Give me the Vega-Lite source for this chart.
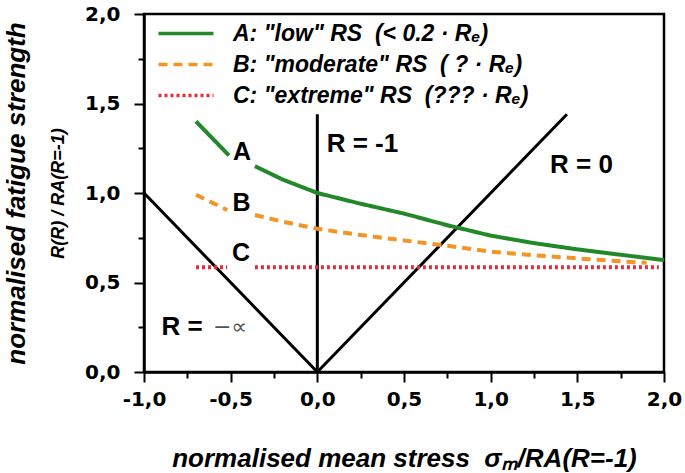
{
  "$schema": "https://vega.github.io/schema/vega-lite/v6.json",
  "width": 520,
  "height": 358,
  "autosize": {"type": "none"},
  "padding": {"left": 144, "top": 14, "right": 21, "bottom": 101},
  "background": "white",
  "config": {
    "view": {"stroke": "black", "strokeWidth": 2.5},
    "axis": {"grid": false, "domainColor": "black", "tickColor": "black", "labelColor": "black", "titleColor": "black", "labelFlush": false, "labelOverlap": false}
  },
  "resolve": {"axis": {"x": "independent", "y": "independent"}},
  "layer": [
    {
      "data": {"values": [
        {"name": "inf", "x": -1, "y": 1}, {"name": "inf", "x": 0, "y": 0},
        {"name": "m1", "x": 0, "y": 0}, {"name": "m1", "x": 0, "y": 1.44},
        {"name": "zero", "x": 0, "y": 0}, {"name": "zero", "x": 1.44, "y": 1.44}
      ]},
      "mark": {"type": "line", "color": "black", "strokeWidth": 3},
      "encoding": {
        "x": {"field": "x", "type": "quantitative",
          "scale": {"domain": [-1, 2], "nice": false, "zero": false},
          "axis": {"orient": "bottom", "values": [-1, -0.5, 0, 0.5, 1, 1.5, 2], "tickSize": 10, "tickWidth": 2, "domainWidth": 2.5,
            "labelExpr": "(datum.value < 0 ? '-' : '') + replace(format(abs(datum.value), '.1f'), '.', ',')",
            "labelFont": "DejaVu Sans", "labelFontWeight": "bold", "labelFontSize": 20, "labelPadding": 7,
            "title": "normalised mean stress \u00a0σₘ/RA(R=-1)", "titleFont": "Liberation Sans", "titleFontSize": 26,
            "titleFontStyle": "italic", "titleFontWeight": "bold", "titlePadding": 36}},
        "y": {"field": "y", "type": "quantitative",
          "scale": {"domain": [0, 2], "nice": false},
          "axis": {"orient": "left", "values": [0, 0.5, 1, 1.5, 2], "tickSize": 10, "tickWidth": 2, "domainWidth": 2.5,
            "labelExpr": "replace(format(datum.value, '.1f'), '.', ',')",
            "labelFont": "DejaVu Sans", "labelFontWeight": "bold", "labelFontSize": 20, "labelPadding": 14,
            "title": "normalised fatigue strength", "titleFont": "Liberation Sans", "titleFontSize": 26,
            "titleFontStyle": "italic", "titleFontWeight": "bold", "titlePadding": 55}},
        "detail": {"field": "name"},
        "order": {"field": "y"}
      }
    },
    {
      "data": {"values": [
        {"series": "A", "seg": "A1", "x": -0.70, "y": 1.40},
        {"series": "A", "seg": "A1", "x": -0.60, "y": 1.30},
        {"series": "A", "seg": "A1", "x": -0.51, "y": 1.21},
        {"series": "A", "seg": "A2", "x": -0.36, "y": 1.15},
        {"series": "A", "seg": "A2", "x": -0.20, "y": 1.075},
        {"series": "A", "seg": "A2", "x": 0.00, "y": 1.00},
        {"series": "A", "seg": "A2", "x": 0.25, "y": 0.94},
        {"series": "A", "seg": "A2", "x": 0.50, "y": 0.885},
        {"series": "A", "seg": "A2", "x": 0.75, "y": 0.82},
        {"series": "A", "seg": "A2", "x": 1.00, "y": 0.762},
        {"series": "A", "seg": "A2", "x": 1.25, "y": 0.72},
        {"series": "A", "seg": "A2", "x": 1.50, "y": 0.685},
        {"series": "A", "seg": "A2", "x": 1.75, "y": 0.655},
        {"series": "A", "seg": "A2", "x": 2.00, "y": 0.625},
        {"series": "B", "seg": "B1", "x": -0.70, "y": 0.99},
        {"series": "B", "seg": "B1", "x": -0.52, "y": 0.905},
        {"series": "B", "seg": "B2", "x": -0.36, "y": 0.877},
        {"series": "B", "seg": "B2", "x": -0.20, "y": 0.84},
        {"series": "B", "seg": "B2", "x": 0.00, "y": 0.80},
        {"series": "B", "seg": "B2", "x": 0.25, "y": 0.765},
        {"series": "B", "seg": "B2", "x": 0.50, "y": 0.735},
        {"series": "B", "seg": "B2", "x": 0.75, "y": 0.705},
        {"series": "B", "seg": "B2", "x": 1.00, "y": 0.672},
        {"series": "B", "seg": "B2", "x": 1.25, "y": 0.652},
        {"series": "B", "seg": "B2", "x": 1.50, "y": 0.635},
        {"series": "B", "seg": "B2", "x": 1.75, "y": 0.618},
        {"series": "B", "seg": "B2", "x": 1.90, "y": 0.61},
        {"series": "C", "seg": "C1", "x": -0.70, "y": 0.585},
        {"series": "C", "seg": "C1", "x": -0.52, "y": 0.585},
        {"series": "C", "seg": "C2", "x": -0.36, "y": 0.585},
        {"series": "C", "seg": "C2", "x": 1.97, "y": 0.585}
      ]},
      "mark": {"type": "line", "strokeWidth": 4},
      "encoding": {
        "x": {"field": "x", "type": "quantitative",
          "axis": {"orient": "bottom", "values": [-0.75, -0.25, 0.25, 0.75, 1.25, 1.75], "labels": false, "domain": false, "tickSize": 6, "tickWidth": 2, "title": null}},
        "y": {"field": "y", "type": "quantitative",
          "axis": {"orient": "left", "values": [0.25, 0.75, 1.25, 1.75], "labels": false, "domain": false, "tickSize": 6, "tickWidth": 2,
            "title": "R(R) / RA(R=-1)", "titleFont": "Liberation Sans", "titleFontSize": 18,
            "titleFontStyle": "italic", "titleFontWeight": "bold", "titlePadding": 70}},
        "color": {"field": "series", "type": "nominal",
          "scale": {"domain": ["A", "B", "C"], "range": ["#23882a", "#f39526", "#df2f3c"]},
          "legend": {"orient": "none", "legendX": 8, "legendY": 8, "title": null, "padding": 0,
            "symbolType": "M-1,0H10", "symbolSize": 100, "symbolStrokeWidth": 3.5, "labelOffset": 58, "labelLimit": 400,
            "labelFont": "Liberation Sans", "labelFontSize": 23, "labelFontStyle": "italic", "labelFontWeight": "bold", "labelColor": "black",
            "rowPadding": 7,
            "labelExpr": "datum.value == 'A' ? 'A: \"low\" RS \u00a0(< 0.2 · Rₑ)' : datum.value == 'B' ? 'B: \"moderate\" RS \u00a0( ? · Rₑ)' : 'C: \"extreme\" RS \u00a0(??? · Rₑ)'"}},
        "strokeDash": {"field": "series", "type": "nominal",
          "scale": {"domain": ["A", "B", "C"], "range": [[1, 0], [9, 6], [3, 3]]},
          "legend": {"orient": "none", "legendX": 8, "legendY": 8, "title": null, "padding": 0,
            "symbolType": "M-1,0H10", "symbolSize": 100, "symbolStrokeWidth": 3.5, "labelOffset": 58, "labelLimit": 400,
            "labelFont": "Liberation Sans", "labelFontSize": 23, "labelFontStyle": "italic", "labelFontWeight": "bold", "labelColor": "black",
            "rowPadding": 7,
            "labelExpr": "datum.value == 'A' ? 'A: \"low\" RS \u00a0(< 0.2 · Rₑ)' : datum.value == 'B' ? 'B: \"moderate\" RS \u00a0( ? · Rₑ)' : 'C: \"extreme\" RS \u00a0(??? · Rₑ)'"}},
        "detail": {"field": "seg"}
      }
    },
    {
      "data": {"values": [
        {"t": "A", "x": -0.434, "y": 1.231},
        {"t": "B", "x": -0.437, "y": 0.942},
        {"t": "C", "x": -0.44, "y": 0.663}
      ]},
      "mark": {"type": "text", "font": "Liberation Sans", "fontWeight": "bold", "fontSize": 25, "align": "center", "baseline": "middle", "color": "black"},
      "encoding": {
        "x": {"field": "x", "type": "quantitative", "axis": null},
        "y": {"field": "y", "type": "quantitative", "axis": null},
        "text": {"field": "t"}
      }
    },
    {
      "data": {"values": [
        {"t": "R = -1", "x": 0.26, "y": 1.274},
        {"t": "R = 0", "x": 1.524, "y": 1.156},
        {"t": "R =", "x": -0.78, "y": 0.249}
      ]},
      "mark": {"type": "text", "font": "Liberation Sans", "fontWeight": "bold", "fontSize": 26, "align": "center", "baseline": "middle", "color": "black"},
      "encoding": {
        "x": {"field": "x", "type": "quantitative", "axis": null},
        "y": {"field": "y", "type": "quantitative", "axis": null},
        "text": {"field": "t"}
      }
    },
    {
      "data": {"values": [
        {"t": "−∝", "x": -0.503, "y": 0.249}
      ]},
      "mark": {"type": "text", "font": "DejaVu Sans", "fontWeight": "normal", "fontSize": 22, "align": "center", "baseline": "middle", "color": "#555555"},
      "encoding": {
        "x": {"field": "x", "type": "quantitative", "axis": null},
        "y": {"field": "y", "type": "quantitative", "axis": null},
        "text": {"field": "t"}
      }
    }
  ]
}
